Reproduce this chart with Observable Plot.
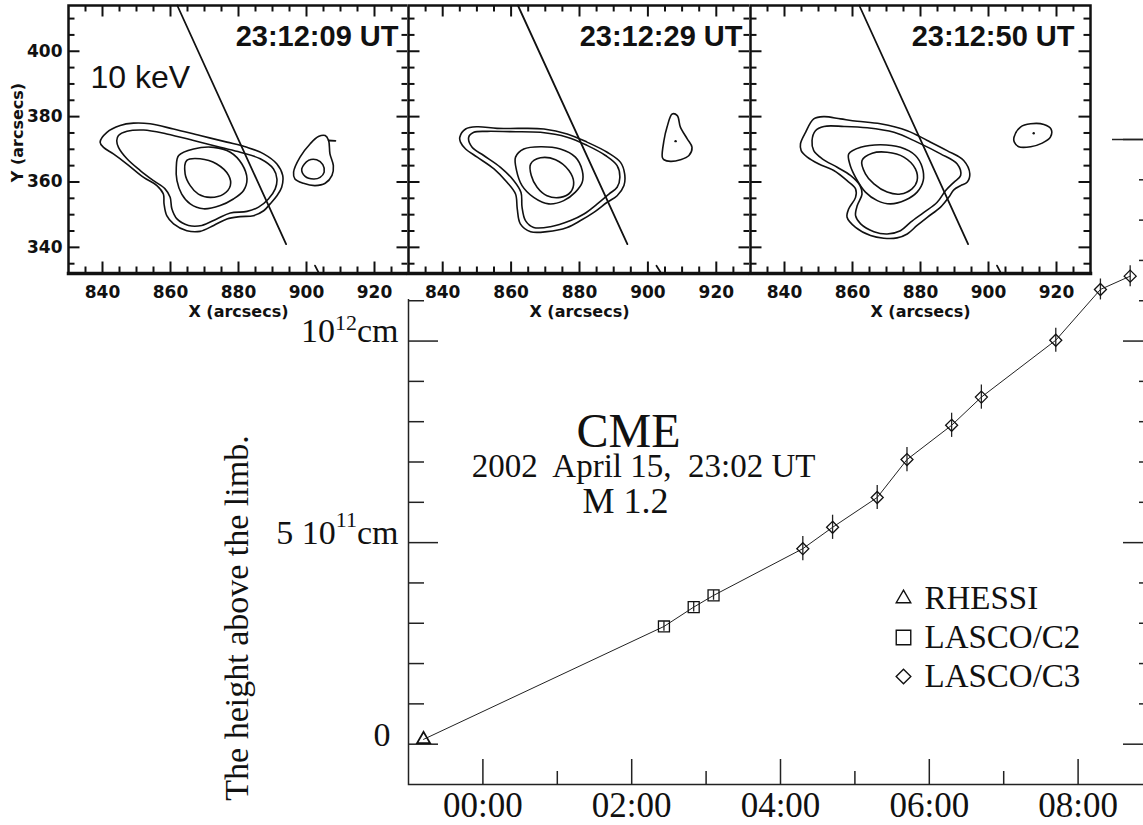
<!DOCTYPE html>
<html><head><meta charset="utf-8">
<script src="https://cdn.jsdelivr.net/npm/d3@7"></script>
<script src="https://cdn.jsdelivr.net/npm/@observablehq/plot@0.6"></script>
<style>
html,body{margin:0;padding:0;background:#fff;overflow:hidden;}
#wrap{position:relative;width:1143px;height:825px;overflow:hidden;background:#fff;}
.layer{position:absolute;top:0;}
.layer svg{overflow:visible;}
</style></head><body><div id="wrap"></div>
<script>
// ---------------- main chart data ----------------
const xDomain = ["2002-04-15T23:00Z", "2002-04-16T09:00Z"];
const yDomain = [-1e11, 1.5e12];
const rhessiTime = ["2002-04-15T23:12:09Z"];
const rhessiHeight = [0.12e11];
const c2Time = ["2002-04-16T02:26Z", "2002-04-16T02:50Z", "2002-04-16T03:06Z"];
const c2Height = [2.92e11, 3.40e11, 3.69e11];
const c2Err = [1.2e10, 1.2e10, 1.2e10];
const c3Time = ["2002-04-16T04:18Z", "2002-04-16T04:42Z", "2002-04-16T05:18Z", "2002-04-16T05:42Z",
  "2002-04-16T06:18Z", "2002-04-16T06:42Z", "2002-04-16T07:42Z", "2002-04-16T08:18Z", "2002-04-16T08:42Z"];
const c3Height = [4.85e11, 5.38e11, 6.12e11, 7.06e11, 7.91e11, 8.61e11, 1.002e12, 1.128e12, 1.161e12];
const c3Err = [3e10, 3e10, 3e10, 3e10, 3e10, 3e10, 3e10, 2.6e10, 2.6e10];
const xMajorTimes = ["2002-04-16T00:00Z", "2002-04-16T02:00Z", "2002-04-16T04:00Z", "2002-04-16T06:00Z", "2002-04-16T08:00Z"];
const xTickLabels = ["00:00", "02:00", "04:00", "06:00", "08:00"];
const xMinorTimes = ["2002-04-16T01:00Z", "2002-04-16T03:00Z", "2002-04-16T05:00Z", "2002-04-16T07:00Z"];
const yMajor = [0, 5e11, 1e12, 1.5e12];
const yMinor = [1e11, 2e11, 3e11, 4e11, 6e11, 7e11, 8e11, 9e11, 1.1e12, 1.2e12, 1.3e12, 1.4e12];
const yZeroLabel = [0];
const yCmValues = [5e11, 1e12];
const yCmLabels = ["5 10^11cm", "10^12cm"];
const yTitle = ["The height above the limb."];
const annotation = ["CME", "2002\u00a0 April 15,\u00a0 23:02 UT", "M 1.2"];
const legendLabels = ["RHESSI", "LASCO/C2", "LASCO/C3"];
const legendSymbols = ["triangle", "square", "diamond2"];

// ---------------- panel data (arcsec) ----------------
const panelTimes = ["23:12:09 UT", "23:12:29 UT", "23:12:50 UT"];
const energyLabel = "10 keV";
const pxTicks = [840, 860, 880, 900, 920];
const pyTicks = [340, 360, 380, 400];
const pxMinor = [835, 845, 850, 855, 865, 870, 875, 885, 890, 895, 905, 910, 915, 925];
const pyMinor = [335, 345, 350, 355, 365, 370, 375, 385, 390, 395, 405, 410];
const limbLine = [[862, 414], [894, 341]];

const p1Outer = [[839.3,372.2],[841.3,375.2],[845.2,377.3],[849.1,378.0],[854.0,377.8],[860.9,376.2],[868.7,374.2],[876.6,372.2],[882.5,370.6],[887.4,368.6],[891.3,365.5],[893.0,362.0],[892.7,358.4],[891.3,355.8],[889.3,353.3],[887.4,351.2],[884.4,349.7],[880.5,349.4],[876.6,348.7],[872.7,346.7],[868.7,344.9],[864.8,345.1],[860.9,347.2],[858.9,349.7],[858.1,353.3],[857.9,356.3],[856.0,358.9],[852.1,361.4],[847.2,365.5],[843.2,368.6],[840.3,370.6]];
const p1Mid = [[844.2,372.7],[844.7,374.2],[847.2,375.5],[852.1,375.9],[858.9,374.7],[866.8,372.7],[874.6,370.6],[880.5,369.1],[886.4,367.1],[890.3,364.0],[891.3,360.9],[890.8,357.9],[888.8,354.8],[885.9,352.3],[882.5,351.0],[877.6,350.5],[873.6,348.7],[869.2,346.7],[865.3,346.7],[861.9,348.7],[860.4,351.8],[859.9,355.3],[858.4,357.9],[855.0,360.4],[851.1,363.5],[847.2,367.1],[844.7,370.6]];
const p1Inner = [[862.4,368.1],[866.8,370.1],[872.7,370.6],[877.6,369.1],[881.0,365.5],[882.5,360.9],[881.5,357.4],[878.5,354.8],[874.6,352.8],[869.7,351.8],[865.8,353.3],[863.3,356.3],[861.9,360.4],[861.7,364.5]];
const p1Core = [[864.8,366.6],[868.7,367.1],[873.6,365.5],[877.1,362.0],[877.6,358.9],[875.6,356.3],[871.7,355.3],[868.2,356.3],[865.8,358.9],[864.3,362.5]];
const p1SrcOuter = [[896.2,363.0],[898.1,367.6],[901.1,371.7],[903.5,373.9],[905.5,374.2],[906.5,372.7],[906.9,368.6],[907.9,365.0],[907.5,362.0],[905.5,359.6],[902.5,358.9],[899.1,359.6],[896.6,360.9]];
const p1SrcInner = [[898.6,364.0],[900.6,366.6],[903.0,366.8],[904.8,365.3],[905.2,363.0],[904.0,361.4],[902.1,360.9],[899.6,361.7]];
const p1Open = [[[902.5,334.4],[903.5,332.4]], [[906.5,372.7],[908.5,372.6]]];
const p1Dots = [];

const p2Outer = [[845.0,373.7],[846.7,376.2],[850.1,376.9],[855.9,376.4],[862.7,376.4],[869.6,376.2],[876.4,374.7],[882.2,372.2],[888.1,369.1],[892.0,366.0],[893.2,362.5],[893.0,358.9],[891.0,355.8],[888.1,353.8],[884.2,350.7],[880.3,348.2],[876.4,346.1],[870.5,344.8],[865.7,344.8],[862.7,347.2],[861.8,351.8],[861.3,356.3],[858.8,359.9],[855.0,364.0],[850.1,367.6],[846.7,370.1],[845.2,372.2]];
const p2Mid = [[847.6,373.7],[849.1,375.2],[853.0,375.5],[859.8,375.4],[868.6,375.2],[876.4,373.7],[882.2,371.2],[887.6,368.1],[891.0,365.0],[891.8,361.4],[891.0,358.4],[888.6,356.3],[885.2,353.3],[881.3,350.2],[877.4,348.2],[871.5,346.3],[866.6,346.1],[864.2,348.2],[863.2,352.3],[862.9,356.8],[860.8,360.4],[856.9,364.5],[852.0,368.1],[848.6,370.6]];
const p2Inner = [[861.3,367.6],[863.7,370.1],[868.6,370.8],[874.4,370.1],[878.8,367.6],[880.8,363.5],[880.8,359.9],[878.8,356.9],[875.4,354.3],[871.0,353.3],[866.6,355.3],[863.2,358.9],[861.6,363.5]];
const p2Core = [[865.7,365.5],[868.6,367.4],[873.0,366.8],[876.9,363.5],[878.3,359.9],[877.4,356.9],[874.4,355.3],[870.5,355.8],[867.6,358.4],[865.9,362.0]];
const p2SrcOuter = [[904.2,367.6],[904.7,372.7],[905.6,376.8],[907.1,380.8],[908.6,380.3],[909.5,376.8],[911.5,373.2],[912.9,370.6],[912.0,368.1],[909.5,366.8],[906.6,366.3],[904.7,366.8]];
const p2Open = [[[902.5,334.4],[903.7,332.4]]];
const p2Dots = [[908.1, 372.5]];

const p3Outer = [[844.7,371.7],[846.2,375.2],[848.6,379.3],[851.6,380.0],[856.5,379.3],[861.4,378.6],[868.2,377.8],[876.1,375.7],[882.0,372.7],[887.8,369.6],[892.7,366.6],[894.5,362.5],[893.7,359.9],[891.8,358.9],[889.8,357.6],[888.3,355.3],[885.9,352.3],[882.0,349.2],[879.0,346.7],[876.1,344.1],[873.1,342.9],[869.2,342.8],[865.3,343.6],[860.9,346.1],[858.4,349.2],[858.9,351.8],[860.9,355.3],[860.9,357.9],[858.4,360.4],[854.5,363.5],[850.1,365.5],[846.7,367.6],[844.9,369.6]];
const p3Mid = [[848.1,372.7],[849.1,375.7],[851.6,377.0],[857.5,377.0],[864.3,376.6],[872.2,375.2],[879.0,372.2],[885.9,368.6],[890.8,365.5],[891.8,362.0],[889.8,359.9],[887.4,357.4],[884.9,353.8],[881.0,350.7],[877.1,347.7],[874.1,345.1],[870.2,344.1],[866.3,344.8],[862.4,347.2],[860.9,349.7],[861.4,352.8],[862.8,356.3],[862.2,358.9],[859.4,362.0],[855.5,364.5],[851.1,367.1],[848.6,369.6]];
const p3Inner = [[858.9,368.6],[862.4,370.6],[868.2,371.4],[874.1,370.6],[878.5,368.1],[880.5,364.5],[880.8,360.4],[879.0,356.9],[875.6,354.5],[871.2,353.3],[867.3,354.3],[863.8,356.9],[860.9,361.4],[859.2,365.5]];
const p3Core = [[862.8,366.6],[865.8,368.8],[870.2,369.1],[875.1,367.6],[878.5,364.0],[879.0,360.4],[877.5,357.9],[874.1,356.3],[870.2,356.9],[866.3,359.4],[863.8,362.5]];
const p3SrcOuter = [[907.5,373.7],[909.4,376.8],[912.4,377.8],[916.3,377.6],[918.4,376.2],[918.2,373.7],[915.8,371.9],[912.4,370.8],[908.9,370.8],[907.6,372.2]];
const p3Open = [[[902.5,334.4],[903.5,332.4]]];
const p3Dots = [[913.3, 374.9]];

// ---------------- fonts ----------------
const SERIF = "'Liberation Serif', 'Times New Roman', serif";
const SANS = "'Liberation Sans', Arial, sans-serif";
const HERSHEY = "'DejaVu Sans', sans-serif";

const wrap = document.getElementById("wrap");
function place(node, left, top, w, h, bg) {
  const d = document.createElement("div");
  d.className = "layer";
  d.style.left = left + "px"; d.style.top = top + "px";
  if (w != null) d.style.width = w + "px";
  if (h != null) d.style.height = h + "px";
  if (bg) d.style.background = bg;
  d.appendChild(node);
  wrap.appendChild(d);
}

// ---------------- main chart ----------------
const pts = [
  ...rhessiTime.map((t, i) => ({t: new Date(t), h: rhessiHeight[i], e: 0, inst: "RHESSI"})),
  ...c2Time.map((t, i) => ({t: new Date(t), h: c2Height[i], e: c2Err[i], inst: "LASCO/C2"})),
  ...c3Time.map((t, i) => ({t: new Date(t), h: c3Height[i], e: c3Err[i], inst: "LASCO/C3"}))
];
const MW = 1152, ML = 408, MT = 139, MB = 41, MH = 825;
const plotW = MW - ML, plotH = MH - MT - MB;
const main = Plot.plot({
  width: MW, height: MH, marginLeft: ML, marginRight: 0, marginTop: MT, marginBottom: MB,
  x: {type: "utc", domain: xDomain.map(d => new Date(d)), axis: null},
  y: {domain: yDomain, axis: null},
  style: {background: "transparent", maxWidth: "none", overflow: "visible"},
  marks: [
    Plot.frame({stroke: "#222", strokeWidth: 1.5}),
    Plot.tickY(yMajor, {y: d => d, insetRight: plotW - 30, stroke: "#222", strokeWidth: 1.5}),
    Plot.tickY(yMinor, {y: d => d, insetRight: plotW - 16, stroke: "#222", strokeWidth: 1.5}),
    Plot.tickY(yMajor, {y: d => d, insetLeft: plotW - 29, stroke: "#222", strokeWidth: 1.5}),
    Plot.tickY(yMinor, {y: d => d, insetLeft: plotW - 13, stroke: "#222", strokeWidth: 1.5}),
    Plot.tickX(xMajorTimes, {x: d => new Date(d), insetTop: plotH - 25, stroke: "#222", strokeWidth: 1.5}),
    Plot.tickX(xMinorTimes, {x: d => new Date(d), insetTop: plotH - 13, stroke: "#222", strokeWidth: 1.5}),
    Plot.text(xMajorTimes, {x: d => new Date(d), text: (d, i) => xTickLabels[i], frameAnchor: "bottom", textAnchor: "middle", lineAnchor: "top", dy: 8, fontSize: 35, fontFamily: SERIF, fill: "#111"}),
    Plot.text(yZeroLabel, {y: d => d, text: d => String(d), frameAnchor: "left", textAnchor: "end", dx: -18, dy: -9, fontSize: 34, fontFamily: SERIF, fill: "#111"}),
    Plot.text(yCmValues, {y: d => d, text: (d, i) => yCmLabels[i], frameAnchor: "left", textAnchor: "end", dx: -10, dy: -10, fontSize: 34, fontFamily: SERIF, fill: "#111"}),
    Plot.text(yTitle, {frameAnchor: "left", textAnchor: "middle", rotate: -90, dx: -171, dy: 156, fontSize: 34, fontFamily: SERIF, fill: "#111"}),
    Plot.text([annotation[0]], {frameAnchor: "top-left", textAnchor: "middle", dx: 220, dy: 273, fontSize: 48, fontFamily: SERIF, fill: "#111"}),
    Plot.text([annotation[1]], {frameAnchor: "top-left", textAnchor: "middle", dx: 235, dy: 314, fontSize: 33, fontFamily: SERIF, fill: "#111"}),
    Plot.text([annotation[2]], {frameAnchor: "top-left", textAnchor: "middle", dx: 217, dy: 348, fontSize: 36, fontFamily: SERIF, fill: "#111"}),
    Plot.line(pts, {x: "t", y: "h", stroke: "#222", strokeWidth: 1}),
    Plot.ruleX(pts.filter(d => d.e > 0), {x: "t", y1: d => d.h - d.e, y2: d => d.h + d.e, stroke: "#222", strokeWidth: 1.3}),
    Plot.dot(pts.filter(d => d.inst === "RHESSI"), {x: "t", y: "h", symbol: "triangle", r: 4.8, fill: "none", stroke: "#111", strokeWidth: 1.8}),
    Plot.dot(pts.filter(d => d.inst === "LASCO/C2"), {x: "t", y: "h", symbol: "square", r: 6.2, fill: "none", stroke: "#111", strokeWidth: 1.3}),
    Plot.dot(pts.filter(d => d.inst === "LASCO/C3"), {x: "t", y: "h", symbol: "diamond2", r: 5.4, fill: "none", stroke: "#111", strokeWidth: 1.3})
  ]
});
// superscripts in y tick labels
const supShift = {"12": {dy: -12, dx: 0}, "11": {dy: -17, dx: 0}};
d3.select(main).selectAll("text").each(function () {
  const s = this.textContent;
  const m = s.match(/^(.*)\^(\d+)(.*)$/);
  if (!m) return;
  const sh = supShift[m[2]] || {dy: -12, dx: 0};
  const el = d3.select(this);
  el.text(null);
  el.append("tspan").text(m[1]);
  el.append("tspan").attr("dy", sh.dy).attr("font-size", 22).text(m[2]);
  el.append("tspan").attr("dy", -sh.dy).attr("dx", sh.dx).text(m[3]);
});
place(main, 0, 0);

// ---------------- panels ----------------
function panel(cfg) {
  const W = cfg.frameW, H = 268;
  const rows = [];
  cfg.contours.forEach((c, k) => c.forEach(([x, y]) => rows.push({x, y, k})));
  const open = [];
  cfg.open.forEach((c, k) => c.forEach(([x, y]) => open.push({x, y, k})));
  open.push(...limbLine.map(([x, y]) => ({x, y, k: "limb"})));
  const tk = {stroke: "#111", strokeWidth: 2};
  const marks = [
    Plot.line(rows, {x: "x", y: "y", z: "k", curve: "catmull-rom-closed", stroke: "#111", strokeWidth: 1.6}),
    Plot.line(open, {x: "x", y: "y", z: "k", stroke: "#111", strokeWidth: 1.8}),
    Plot.dot(cfg.dots, {x: d => d[0], y: d => d[1], r: 1.2, fill: "#111", stroke: null}),
    Plot.tickX(pxMinor, {x: d => d, insetTop: H - 6.5, ...tk}),
    Plot.tickX(pxMinor, {x: d => d, insetBottom: H - 6.5, ...tk}),
    Plot.tickX(pxTicks, {x: d => d, insetTop: H - 11.5, ...tk}),
    Plot.tickX(pxTicks, {x: d => d, insetBottom: H - 11.5, ...tk}),
    Plot.tickY(pyMinor, {y: d => d, insetRight: W - 6.5, ...tk}),
    Plot.tickY(pyMinor, {y: d => d, insetLeft: W - 6.5, ...tk}),
    Plot.tickY(pyTicks, {y: d => d, insetRight: W - 11.5, ...tk}),
    Plot.tickY(pyTicks, {y: d => d, insetLeft: W - 11.5, ...tk}),
    Plot.frame({stroke: "#111", strokeWidth: 2.5}),
    Plot.frame({anchor: "bottom", stroke: "#111", strokeWidth: 3.5}),
    Plot.text(pxTicks, {x: d => d, text: d => String(d), frameAnchor: "bottom", textAnchor: "middle", lineAnchor: "top", dy: 12, fontSize: 17, fontWeight: "bold", fontFamily: HERSHEY, fill: "#111"}),
    Plot.text(["X (arcsecs)"], {frameAnchor: "bottom", textAnchor: "middle", lineAnchor: "top", dy: 32, fontSize: 16, fontWeight: "bold", fontFamily: HERSHEY, fill: "#111"}),
    Plot.text([cfg.time], {frameAnchor: "top-right", textAnchor: "end", lineAnchor: "top", dx: cfg.timeDx, dy: 20, fontSize: 29, fontWeight: "bold", fontFamily: SANS, fill: "#111"})
  ];
  if (cfg.showY) {
    marks.push(Plot.text(pyTicks, {y: d => d, text: d => String(d), frameAnchor: "left", textAnchor: "end", dx: -6, fontSize: 17, fontWeight: "bold", fontFamily: HERSHEY, fill: "#111"}));
    marks.push(Plot.text(["Y (arcsecs)"], {frameAnchor: "left", textAnchor: "middle", rotate: -90, dx: -51, dy: -7, fontSize: 16, fontWeight: "bold", fontFamily: HERSHEY, fill: "#111"}));
  }
  if (cfg.energy) {
    marks.push(Plot.text([cfg.energy], {frameAnchor: "top-left", textAnchor: "start", lineAnchor: "top", dx: 22, dy: 60, fontSize: 32, fontFamily: SANS, fill: "#111"}));
  }
  return Plot.plot({
    width: cfg.ml + W + cfg.mr, height: 5 + H + 50,
    marginLeft: cfg.ml, marginRight: cfg.mr, marginTop: 5, marginBottom: 50,
    x: {domain: [830, 930], axis: null},
    y: {domain: [332, 414], axis: null},
    style: {background: "transparent", overflow: "visible", maxWidth: "none"},
    marks
  });
}

const P1 = panel({frameW: 340, ml: 68, mr: 2, time: panelTimes[0], timeDx: -10, showY: true, energy: energyLabel,
  contours: [p1Outer, p1Mid, p1Inner, p1Core, p1SrcOuter, p1SrcInner], open: p1Open, dots: p1Dots});
const P2 = panel({frameW: 342, ml: 1, mr: 1, time: panelTimes[1], timeDx: -8,
  contours: [p2Outer, p2Mid, p2Inner, p2Core, p2SrcOuter], open: p2Open, dots: p2Dots});
const P3 = panel({frameW: 340, ml: 1, mr: 22, time: panelTimes[2], timeDx: -16,
  contours: [p3Outer, p3Mid, p3Inner, p3Core, p3SrcOuter], open: p3Open, dots: p3Dots});
place(P1, 0, 0);
place(P2, 407, 0, 344, 299, "#fff");
place(P3, 749, 0, 363, 276, "#fff");

// ---------------- legend ----------------
const legend = Plot.plot({
  width: 230, height: 130, margin: 0,
  y: {type: "point", domain: legendLabels, range: [28, 106], padding: 0, axis: null},
  symbol: {domain: legendLabels, range: legendSymbols},
  style: {background: "transparent", overflow: "visible"},
  marks: [
    Plot.dot(legendLabels.slice(0, 1), {y: d => d, frameAnchor: "left", dx: 23, symbol: d => d, r: 5.4, fill: "none", stroke: "#111", strokeWidth: 1.4}),
    Plot.dot(legendLabels.slice(1, 2), {y: d => d, frameAnchor: "left", dx: 23, symbol: d => d, r: 8.2, fill: "none", stroke: "#111", strokeWidth: 1.4}),
    Plot.dot(legendLabels.slice(2, 3), {y: d => d, frameAnchor: "left", dx: 23, symbol: d => d, r: 6.6, fill: "none", stroke: "#111", strokeWidth: 1.4}),
    Plot.text(legendLabels, {y: d => d, frameAnchor: "left", textAnchor: "start", dx: 44, fontSize: 33, fontFamily: SERIF, fill: "#111"})
  ]
});
place(legend, 880, 570);
</script></body></html>
